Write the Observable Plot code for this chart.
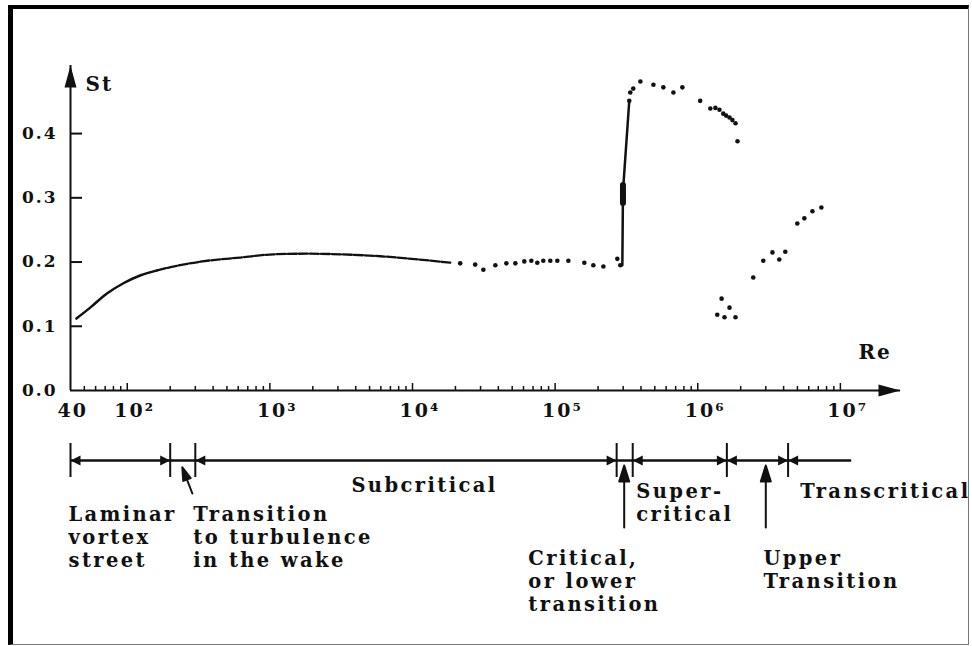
<!DOCTYPE html>
<html><head><meta charset="utf-8">
<script src="https://cdn.jsdelivr.net/npm/d3@7"></script>
<script src="https://cdn.jsdelivr.net/npm/@observablehq/plot@0.6"></script>
<style>
html,body{margin:0;padding:0;background:#fff;}
#wrap{position:relative;width:972px;height:646px;overflow:hidden;background:#fff;}
#frame{position:absolute;left:8px;top:5px;width:961px;height:640px;box-sizing:border-box;border-top:4px solid #000;border-left:5px solid #000;border-right:1px solid #777;border-bottom:1px solid #777;pointer-events:none;}
#top,#bottom{position:absolute;left:0;}
#top{top:0;}
#bottom{top:430px;}
</style></head><body>
<div id="wrap"><div id="top"></div><div id="bottom"></div><div id="frame"></div></div>
<script>
// ---------- data ----------
const curveSolidRe = [44, 55, 72, 94, 123, 162];
const curveSolidSt = [0.112, 0.129, 0.151, 0.167, 0.179, 0.187];
const curveDashRe = [162, 210, 364, 620, 1057, 1830, 3120, 5950, 11000, 18400];
const curveDashSt = [0.187, 0.193, 0.202, 0.207, 0.212, 0.213, 0.212, 0.209, 0.204, 0.199];

const subRe = [21600, 27500, 31400, 38100, 45500, 52600, 60800, 68100, 75000, 82600, 92500, 103600, 123800, 160300, 185300, 217900, 273000, 286500];
const subSt = [0.198, 0.196, 0.188, 0.195, 0.198, 0.198, 0.201, 0.202, 0.199, 0.202, 0.202, 0.202, 0.202, 0.199, 0.195, 0.193, 0.205, 0.195];

const jumpRe = [296000, 299000, 331000];
const jumpSt = [0.195, 0.31, 0.451];
const blockRe = [299000, 299000];
const blockSt = [0.292, 0.320];

const superRe = [331000, 336500, 353000, 396000, 489000, 574000, 675000, 780000, 1040000, 1225000, 1330000, 1420000, 1510000, 1580000, 1670000, 1750000, 1840000, 1900000];
const superSt = [0.451, 0.464, 0.470, 0.481, 0.476, 0.472, 0.464, 0.472, 0.451, 0.439, 0.440, 0.437, 0.431, 0.428, 0.425, 0.421, 0.416, 0.388];

const transRe = [1370000, 1470000, 1540000, 1670000, 1840000, 2450000, 2880000, 3340000, 3730000, 4110000, 4990000, 5590000, 6370000, 7360000];
const transSt = [0.118, 0.143, 0.114, 0.129, 0.114, 0.176, 0.202, 0.215, 0.204, 0.216, 0.260, 0.268, 0.279, 0.285];

const yTickValues = [0, 0.1, 0.2, 0.3, 0.4];
const xTickValues = [40, 1e2, 1e3, 1e4, 1e5, 1e6, 1e7];
const xTickLabels = ["40", "10²", "10³", "10⁴", "10⁵", "10⁶", "10⁷"];
const xMinorTicks = [50, 60, 70, 80, 90,
  200, 300, 400, 500, 600, 700, 800, 900,
  2e3, 3e3, 4e3, 5e3, 6e3, 7e3, 8e3, 9e3,
  2e4, 3e4, 4e4, 5e4, 6e4, 7e4, 8e4, 9e4,
  2e5, 3e5, 4e5, 5e5, 6e5, 7e5, 8e5, 9e5,
  2e6, 3e6, 4e6, 5e6, 6e6, 7e6, 8e6, 9e6];
const xMax = 2.64e7, yMax = 0.506;

// regimes along Re
const regimeLineStart = 40, regimeLineEnd = 1.2e7;
const regimeBounds = [40, 200, 300, 270000, 350000, 1600000, 4300000];
const headsLeftPointing = [40, 300, 350000, 1600000, 4300000];
const headsRightPointing = [200, 270000, 1600000, 4300000];
const upArrowRe = [305000, 3000000];
const wakeArrowTailRe = [286];
const regimeText = ["Laminar\nvortex\nstreet", "Transition\nto turbulence\nin the wake", "Subcritical", "Super-\ncritical", "Transcritical", "Critical,\nor lower\ntransition", "Upper\nTransition"];
const regimeTextRe = [40, 300, 3850, 383000, 5400000, 67000, 2980000];

// ---------- helpers ----------
const ink = "#111";
const zip = (a, b) => a.map((v, i) => ({re: v, st: b[i]}));
const head = (len, half) => ({draw(ctx) { ctx.moveTo(0, 0); ctx.lineTo(-half, len); ctx.lineTo(half, len); ctx.closePath(); }});
const arrowShape = (hl, half) => ({draw(ctx, l) {
  ctx.moveTo(0, 0); ctx.lineTo(0, -l + hl * 0.6);
  ctx.moveTo(0, -l); ctx.lineTo(-half, -l + hl); ctx.lineTo(half, -l + hl); ctx.closePath();
}});
const style = {fontFamily: "'DejaVu Serif', serif", fontWeight: "bold", letterSpacing: "2px", background: "transparent", color: ink, overflow: "visible"};
const X = {type: "log", domain: [40, xMax], axis: null};

const topPlot = Plot.plot({
  width: 972, height: 430, marginLeft: 70, marginRight: 72, marginTop: 65, marginBottom: 40,
  x: X, y: {domain: [0, yMax], axis: null},
  style,
  marks: [
    Plot.ruleX([40], {stroke: ink, strokeWidth: 2}),
    Plot.ruleY([0], {stroke: ink, strokeWidth: 2}),
    Plot.dot([0], {x: 40, y: yMax, symbol: head(22, 6), r: 1, fill: ink, stroke: null}),
    Plot.dot([0], {x: xMax, y: 0, symbol: head(22, 6), rotate: 90, r: 1, fill: ink, stroke: null}),
    Plot.axisY(yTickValues.slice(1), {anchor: "left", tickSize: -12, tickFormat: () => "", label: null, stroke: ink, strokeWidth: 2}),
    Plot.axisY(yTickValues, {anchor: "left", tickSize: 0, tickPadding: 13, tickFormat: d3.format(".1f"), label: null, fontSize: 17, fill: ink}),
    Plot.axisX(xMinorTicks, {anchor: "bottom", tickSize: -4, tickFormat: () => "", label: null, stroke: ink, strokeWidth: 1.5}),
    Plot.axisX(xTickValues.slice(1), {anchor: "bottom", tickSize: -7, tickFormat: () => "", label: null, stroke: ink, strokeWidth: 1.5}),
    Plot.text(xTickValues, {x: d => d, text: (d, i) => xTickLabels[i], frameAnchor: "bottom", dy: 26, dx: -13, textAnchor: "start", fontSize: 19, fill: ink}),
    Plot.text(["St"], {frameAnchor: "top-left", dx: 15, dy: 11, textAnchor: "start", fontSize: 20, fill: ink}),
    Plot.text(["Re"], {frameAnchor: "bottom-right", dx: -42, dy: -32, textAnchor: "start", fontSize: 20, fill: ink}),
    Plot.line(zip(curveSolidRe, curveSolidSt), {x: "re", y: "st", stroke: ink, strokeWidth: 2.5, curve: "monotone-x"}),
    Plot.line(zip(curveDashRe, curveDashSt), {x: "re", y: "st", stroke: ink, strokeWidth: 2.3, strokeDasharray: "9,2", curve: "monotone-x"}),
    Plot.line(zip(jumpRe, jumpSt), {x: "re", y: "st", stroke: ink, strokeWidth: 2.5}),
    Plot.line(zip(blockRe, blockSt), {x: "re", y: "st", stroke: ink, strokeWidth: 6}),
    Plot.dot(zip(subRe, subSt), {x: "re", y: "st", r: 2.3, fill: ink, stroke: null}),
    Plot.dot(zip(superRe, superSt), {x: "re", y: "st", r: 2.3, fill: ink, stroke: null}),
    Plot.dot(zip(transRe, transSt), {x: "re", y: "st", r: 2.3, fill: ink, stroke: null})
  ]
});
document.getElementById("top").append(topPlot);

const txt = (i, dy) => Plot.text([regimeText[i]], {x: regimeTextRe[i], frameAnchor: "top", dy, dx: -2, textAnchor: "start", lineAnchor: "top", lineHeight: 1.18, fontSize: 19.5, fill: ink});

const bottomPlot = Plot.plot({
  width: 972, height: 216, marginLeft: 70, marginRight: 72, marginTop: 13, marginBottom: 169,
  x: X, y: {domain: [0, 1], axis: null},
  style: {...style, letterSpacing: "2.4px"},
  marks: [
    Plot.ruleY([0.5], {x1: regimeLineStart, x2: regimeLineEnd, stroke: ink, strokeWidth: 2.5}),
    Plot.ruleX(regimeBounds, {stroke: ink, strokeWidth: 2}),
    Plot.dot(headsLeftPointing, {x: d => d, y: 0.5, symbol: head(10, 5), rotate: -90, r: 1, fill: ink, stroke: null}),
    Plot.dot(headsRightPointing, {x: d => d, y: 0.5, symbol: head(10, 5), rotate: 90, r: 1, fill: ink, stroke: null}),
    Plot.vector(upArrowRe, {x: d => d, frameAnchor: "bottom", dy: 50, length: 62, anchor: "start", rotate: 0, shape: arrowShape(16, 5), stroke: ink, fill: ink, strokeWidth: 2}),
    Plot.vector(wakeArrowTailRe, {x: d => d, frameAnchor: "bottom", dy: 16, length: 28, anchor: "start", rotate: -21, shape: arrowShape(13, 4), stroke: ink, fill: ink, strokeWidth: 2}),
    txt(0, 61), txt(1, 61), txt(2, 32), txt(3, 38), txt(4, 38), txt(5, 105), txt(6, 105)
  ]
});
document.getElementById("bottom").append(bottomPlot);
</script>
</body></html>
